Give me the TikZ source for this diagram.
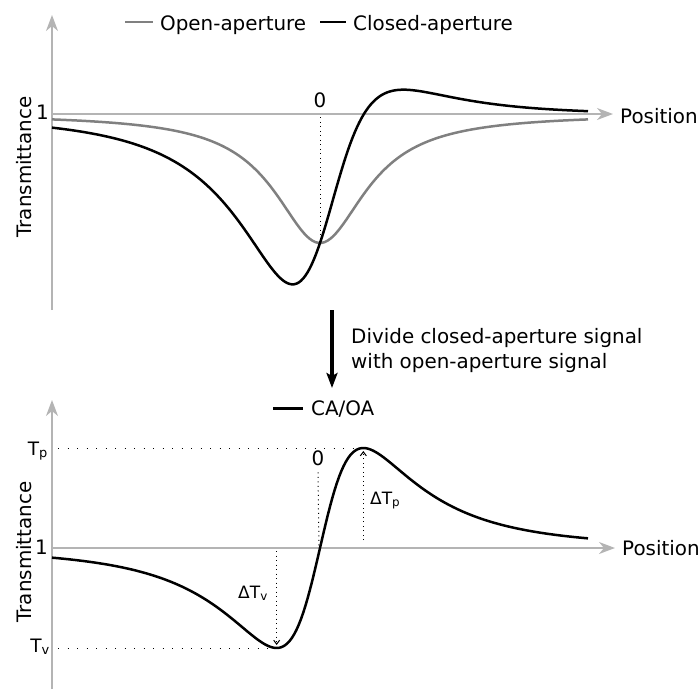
\documentclass[tikz,border=0pt]{standalone}
\usepackage{fontspec}
\setmainfont{DejaVu Sans}
\usetikzlibrary{arrows.meta}
\usetikzlibrary{positioning}
\definecolor{axisgray}{RGB}{180,180,180}
\definecolor{oagray}{RGB}{128,128,128}

\begin{document}
\begin{tikzpicture}[x=1pt,y=-1pt]
\tikzset{lbl/.style={font=\fontsize{19.9}{25}\selectfont,inner sep=0pt},
  smalllbl/.style={font=\fontsize{17}{20}\selectfont,inner sep=0pt},
  axis/.style={axisgray,line width=1.5pt,-{Stealth[length=16pt,width=12pt,inset=5pt]}},
  oacurve/.style={oagray,line width=2.5pt},
  cacurve/.style={black,line width=2.5pt},
  guide/.style={line width=1pt,dash pattern=on 1pt off 3.5pt},
  wideguide/.style={line width=1pt,dash pattern=on 1pt off 8.5pt},
  deltaarrow/.style={guide,-{Straight Barb[length=4pt,width=6pt]}},
  declare function={lor(\x)=1/(1+((\x-320)/56)*((\x-320)/56));
    zs(\u)=4*\u/((\u*\u+9)*(\u*\u+1));}}
\useasboundingbox (0,0) rectangle (699,689);

% upper panel
\coordinate (o1) at (52,310);
\coordinate (y1) at (52,15);
\coordinate (h1) at (52,114);
\coordinate (x1) at (613,114);
\draw[axis] (o1) -- (y1);
\draw[axis] (h1) -- (x1);
\node[lbl,anchor=base west] (p1) at (620,123) {Position};
\node[lbl,anchor=base east] (u1) at (49,119) {1};
\node[lbl,anchor=base,rotate=90] (t1) at (31,167) {Transmittance};

\node[lbl,anchor=base west] (oa) at (160,30) {Open-aperture};
\node[lbl,anchor=base west] (ca) at (353,30) {Closed-aperture};
\draw[oacurve] (125,22) -- (153,22);
\draw[cacurve] (320,22) -- (346,22);

\draw[oacurve] plot[domain=52:588,samples=180] (\x,{114+129*lor(\x)});
\draw[cacurve] plot[domain=52:588,samples=240]
  (\x,{114-300*((1-0.43*lor(\x))*(1+1.8*zs((\x-320)/46))-1)});

\node[lbl,anchor=base] (z1) at (320,107) {0};
\coordinate (c1) at (320,243);
\draw[guide] ([yshift=-10pt]z1.south) -- (c1);

% division step
\coordinate (a1) at (332,310);
\coordinate (a2) at (332,388);
\draw[line width=3.5pt,-{Stealth[length=15pt,width=11pt,inset=3pt]}] (a1) -- (a2);
\node[lbl,anchor=north west,align=left] (dv) at (351,328)
  {Divide closed-aperture signal\\with open-aperture signal};

% lower panel
\coordinate (o2) at (52,689);
\coordinate (y2) at (52,400);
\coordinate (h2) at (52,548);
\coordinate (x2) at (615,548);
\draw[axis] (o2) -- (y2);
\draw[axis] (h2) -- (x2);
\node[lbl,anchor=base west] (p2) at (622,555) {Position};
\node[lbl,anchor=base east] (u2) at (48,554) {1};
\node[lbl,anchor=base,rotate=90] (t2) at (31,552) {Transmittance};

\node[lbl,anchor=base west] (r) at (311,415) {CA/OA};
\draw[cacurve,line width=3pt] (273,408) -- (303,408);

\draw[cacurve] plot[domain=52:588,samples=240]
  (\x,{548-492.5*zs((\x-320)/50.5)});

\node[lbl,anchor=base] (z2) at (318,465) {0};
\coordinate (c2) at (319,548);
\draw[guide] ([yshift=-7pt]z2.south) -- (c2);

\coordinate (pk) at (363.35,448);
\coordinate (vl) at (276.65,648);
\node[lbl,font=\fontsize{18.5}{20}\selectfont,anchor=base east] (tp) at (48,455) {T\textsubscript{p}};
\node[lbl,font=\fontsize{18.5}{20}\selectfont,anchor=base east] (tv) at (50,652) {T\textsubscript{v}};
\draw[wideguide] ([xshift=10pt]tp.east |- pk) -- (pk);
\draw[wideguide] ([xshift=8pt]tv.east |- vl) -- (vl);

\coordinate (pb) at (363.35,540);
\coordinate (vb) at (276.65,551);
\draw[deltaarrow] (pb) -- ([yshift=-3pt]pk);
\draw[deltaarrow] (vb) -- ([yshift=3pt]vl);
\node[smalllbl,anchor=base west] (dp) at (370,504) {ΔT\textsubscript{p}};
\node[smalllbl,anchor=base east] (dv2) at (268,598) {ΔT\textsubscript{v}};
\end{tikzpicture}
\end{document}
